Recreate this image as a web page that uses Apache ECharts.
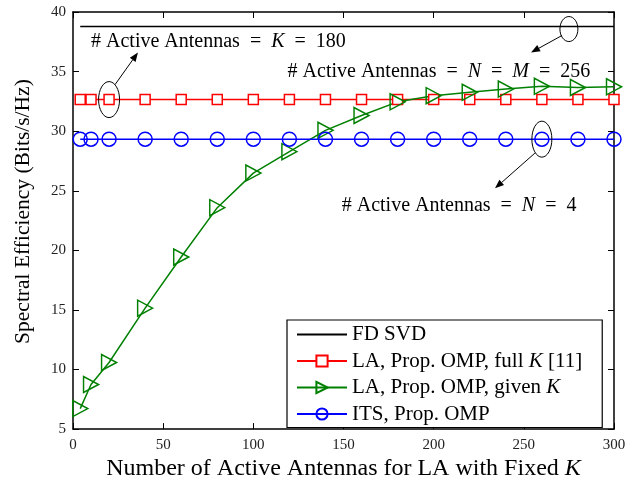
<!DOCTYPE html>
<html><head><meta charset="utf-8">
<script src="https://cdn.jsdelivr.net/npm/echarts@6/dist/echarts.min.js"></script>
<style>html,body{margin:0;padding:0;background:#fff}#c{width:629px;height:486px}</style>
</head><body><div id="c"></div>
<script>
const xValues = [4,10,20,40,60,80,100,120,140,160,180,200,220,240,260,280,300];
const fdSvdX = [4,300];
const fdSvd = [38.78,38.78];
const laFullK = [32.65,32.65,32.65,32.65,32.65,32.65,32.65,32.65,32.65,32.65,32.65,32.65,32.65,32.65,32.65,32.65,32.65];
const laGivenK = [6.72,8.74,10.59,15.15,19.44,23.58,26.48,28.28,30.07,31.32,32.46,32.98,33.26,33.53,33.76,33.67,33.72];
const itsOmp = [29.33,29.33,29.33,29.33,29.33,29.33,29.33,29.33,29.33,29.33,29.33,29.33,29.33,29.33,29.33,29.33,29.33];
const seriesNames = ['FD SVD','LA, Prop. OMP, full K [11]','LA, Prop. OMP, given K','ITS, Prop. OMP'];
const xTicks = [0,50,100,150,200,250,300];
const yTicks = [5,10,15,20,25,30,35,40];

const FONT = '"Liberation Serif","DejaVu Serif",serif';
const pair = (xs, ys) => xs.map((x,i)=>[x,ys[i]]);
const chart = echarts.init(document.getElementById('c'), null, {renderer:'canvas'});

const axisCommon = {
  axisLine:{show:true,onZero:false,lineStyle:{color:'#000',width:1.5}},
  axisTick:{show:true,inside:true,length:6,lineStyle:{color:'#000',width:1}},
  splitLine:{show:false},
  axisLabel:{color:'#222',fontFamily:FONT,fontSize:15}
};
const mirror = {
  axisLine:{show:true,onZero:false,lineStyle:{color:'#000',width:1.5}},
  axisTick:{show:true,inside:true,length:6,lineStyle:{color:'#000',width:1}},
  axisLabel:{show:false},splitLine:{show:false}
};
const AF = 20;
const richText = {
  n:{fontFamily:FONT,fontSize:AF,color:'#000'},
  i:{fontFamily:FONT,fontSize:AF,fontStyle:'italic',color:'#000'}
};
const LF = 21;
const legendRich = {
  n:{fontFamily:FONT,fontSize:LF,color:'#000'},
  i:{fontFamily:FONT,fontSize:LF,fontStyle:'italic',color:'#000'}
};

chart.setOption({
  animation:false,
  backgroundColor:'#fff',
  grid:{left:73,right:15,top:12,bottom:52,containLabel:false},
  xAxis:[
    Object.assign({type:'value',min:0,max:300,interval:50,position:'bottom',
      name:'Number of Active Antennas for LA with Fixed {i|K}',nameLocation:'middle',nameGap:26,
      nameTextStyle:{fontFamily:FONT,fontSize:24,color:'#000',rich:{i:{fontFamily:FONT,fontSize:24,fontStyle:'italic',color:'#000'}}}},
      axisCommon,{axisLabel:{color:'#222',fontFamily:FONT,fontSize:15,margin:8}}),
    Object.assign({type:'value',min:0,max:300,interval:50,position:'top'},mirror)
  ],
  yAxis:[
    Object.assign({type:'value',min:5,max:40,interval:5,position:'left',
      name:'Spectral Efficiency (Bits/s/Hz)',nameLocation:'middle',nameGap:39,
      nameTextStyle:{fontFamily:FONT,fontSize:21.5,color:'#000',padding:[0,0,0,18]}},
      axisCommon,{axisLabel:{color:'#222',fontFamily:FONT,fontSize:15,margin:7}}),
    Object.assign({type:'value',min:5,max:40,interval:5,position:'right'},mirror)
  ],
  legend:{
    orient:'vertical',left:287,top:320,
    backgroundColor:'#fff',borderColor:'#000',borderWidth:1.2,borderRadius:0,
    padding:[4,20,3,9],itemGap:5.5,itemWidth:50,itemHeight:14,
    textStyle:{fontFamily:FONT,fontSize:LF,color:'#000',rich:legendRich},
    formatter:function(name){
      if(name===seriesNames[1]) return '{n|LA, Prop. OMP, full }{i|K}{n| [11]}';
      if(name===seriesNames[2]) return '{n|LA, Prop. OMP, given }{i|K}';
      return '{n|'+name+'}';
    },
    data:[
      {name:seriesNames[0],itemStyle:{opacity:0,color:'rgba(0,0,0,0)',borderWidth:0}},
      seriesNames[1],seriesNames[2],seriesNames[3]
    ]
  },
  series:[
    {name:seriesNames[0],type:'line',data:pair(fdSvdX,fdSvd),showSymbol:false,symbol:'none',
      lineStyle:{color:'#000',width:1.5},itemStyle:{color:'#000'}},
    {name:seriesNames[1],type:'line',data:pair(xValues,laFullK),symbol:'rect',symbolSize:10,
      lineStyle:{color:'#ff0000',width:1.5},itemStyle:{color:'#fff',borderColor:'#ff0000',borderWidth:1.5}},
    {name:seriesNames[2],type:'line',data:pair(xValues,laGivenK),symbol:'triangle',symbolSize:[16,15],symbolRotate:-90,
      lineStyle:{color:'#008000',width:1.5},itemStyle:{color:'rgba(255,255,255,0)',borderColor:'#008000',borderWidth:1.5}},
    {name:seriesNames[3],type:'line',data:pair(xValues,itsOmp),symbol:'circle',symbolSize:14,
      lineStyle:{color:'#0000ff',width:1.5},itemStyle:{color:'rgba(255,255,255,0)',borderColor:'#0000ff',borderWidth:1.5}}
  ]
});

// annotations anchored to data coordinates
function px(x,y){return chart.convertToPixel({xAxisIndex:0,yAxisIndex:0},[x,y]);}
function ellipse(c,rx,ry){return {type:'ellipse',shape:{cx:c[0],cy:c[1],rx:rx,ry:ry},style:{fill:'none',stroke:'#000',lineWidth:1},z:100};}
function arrow(from,to){
  const ang=Math.atan2(to[1]-from[1],to[0]-from[0]);
  const L=9,W=3.5;
  const bx=to[0]-L*Math.cos(ang), by=to[1]-L*Math.sin(ang);
  const nx=-Math.sin(ang), ny=Math.cos(ang);
  return [
    {type:'line',shape:{x1:from[0],y1:from[1],x2:bx,y2:by},style:{stroke:'#000',lineWidth:1},z:100},
    {type:'polygon',shape:{points:[[to[0],to[1]],[bx+nx*W,by+ny*W],[bx-nx*W,by-ny*W]]},style:{fill:'#000'},z:100}
  ];
}
function label(p,txt){return {type:'text',x:p[0],y:p[1],style:{text:txt,rich:richText,verticalAlign:'middle',align:'left'},z:100};}

const cRed = px(20,laFullK[2]);
const cBlack = px(275,fdSvd[0]);
const cBlue = px(260,itsOmp[14]);
const g = [];
g.push(ellipse(cRed,10.5,18));
g.push(...arrow([cRed[0]+6,cRed[1]-15],px(36,36.6)));
g.push(label(px(10,37.5),'{n|# Active Antennas  =  }{i|K}{n|  =  180}'));
g.push(ellipse([cBlack[0],cBlack[1]+2.5],9,12.5));
g.push(...arrow([cBlack[0]-7,cBlack[1]+9],px(254,36.6)));
g.push(label(px(119,35.0),'{n|# Active Antennas  =  }{i|N}{n|  =  }{i|M}{n|  =  256}'));
g.push(ellipse(cBlue,10,18));
g.push(...arrow([cBlue[0]-7,cBlue[1]+14],px(234,25.2)));
g.push(label(px(149,23.7),'{n|# Active Antennas  =  }{i|N}{n|  =  4}'));
chart.setOption({graphic:g});
</script></body></html>
